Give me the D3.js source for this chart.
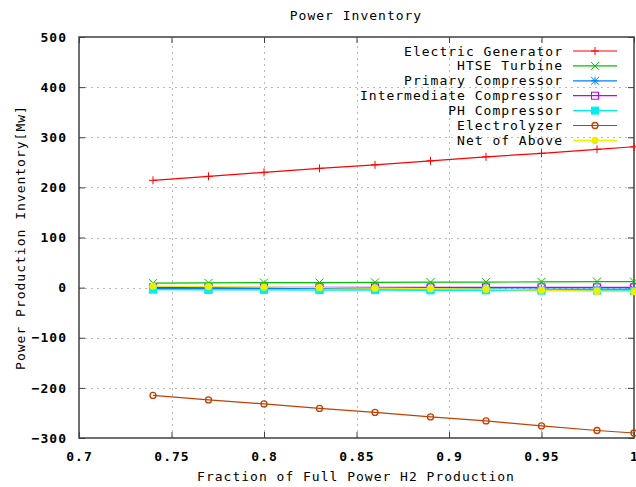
<!DOCTYPE html>
<html>
<head>
<meta charset="utf-8">
<script src="https://cdn.jsdelivr.net/npm/d3@7"></script>
<style>
  body { margin: 0; background: #fff; }
  text { font-family: "DejaVu Sans Mono", monospace; font-size: 13px; letter-spacing: 1px; fill: #000; }
</style>
</head>
<body>
<svg id="chart" width="636" height="487"></svg>
<script>
var fractions = [0.74, 0.77, 0.80, 0.83, 0.86, 0.89, 0.92, 0.95, 0.98, 1.0];
var electricGenerator = [214, 222, 230, 238, 245, 253, 261, 268, 276, 281];
var htseTurbine = [9, 9.5, 10, 10, 10.5, 11, 11, 11.5, 12, 12];
var primaryCompressor = [-2, -2, -2, -2, -2.5, -2.5, -2.5, -3, -3, -3];
var intermediateCompressor = [0.5, 0.5, 0.5, 0.5, 0.5, 0.5, 0.5, 0.5, 0.5, 0.5];
var phCompressor = [-4, -4.5, -4.5, -5, -5, -5.5, -5.5, -6, -6, -6.5];
var electrolyzer = [-215, -224, -232, -241, -249, -258, -266, -276, -285, -290];
var netOfAbove = [3, 2, 1, 0, -1, -2, -3, -5, -7, -8];

var xTicks = [0.7, 0.75, 0.8, 0.85, 0.9, 0.95, 1];
var yTicks = [-300, -200, -100, 0, 100, 200, 300, 400, 500];

var series = [
  {name: 'Electric Generator', values: electricGenerator, color: '#ff0000', mark: 'plus'},
  {name: 'HTSE Turbine', values: htseTurbine, color: '#00c000', mark: 'cross'},
  {name: 'Primary Compressor', values: primaryCompressor, color: '#0080ff', mark: 'star'},
  {name: 'Intermediate Compressor', values: intermediateCompressor, color: '#c000ff', mark: 'square'},
  {name: 'PH Compressor', values: phCompressor, color: '#00eeee', mark: 'fsquare'},
  {name: 'Electrolyzer', values: electrolyzer, color: '#c04000', mark: 'circle'},
  {name: 'Net of Above', values: netOfAbove, color: '#eeee00', mark: 'fcircle'}
];

var svg = d3.select('#chart');
var margin = {left: 79, right: 2, top: 37, bottom: 49};
var W = 636, H = 487;

var x = d3.scaleLinear().domain([0.7, 1]).range([margin.left, W - margin.right]);
var y = d3.scaleLinear().domain([-300, 500]).range([H - margin.bottom, margin.top]);

// grid
var grid = svg.append('g').attr('stroke', '#b8b8b8').attr('stroke-dasharray', '2,4').attr('stroke-width', 1);
xTicks.slice(1, -1).forEach(function(t) {
  grid.append('line').attr('x1', Math.round(x(t)) + 0.5).attr('x2', Math.round(x(t)) + 0.5)
    .attr('y1', y(-300)).attr('y2', y(500));
});
yTicks.slice(1, -1).forEach(function(t) {
  grid.append('line').attr('y1', Math.round(y(t)) + 0.5).attr('y2', Math.round(y(t)) + 0.5)
    .attr('x1', x(0.7)).attr('x2', x(1));
});

// axes with mirrored inward ticks
var tickStyle = function(g) {
  g.select('.domain').remove();
  g.selectAll('.tick line').attr('stroke', '#404040');
  g.selectAll('.tick text').attr('fill', '#000');
};
svg.append('g').attr('transform', 'translate(0,' + y(-300) + ')')
  .call(d3.axisBottom(x).tickValues(xTicks).tickSize(-6).tickPadding(14).tickFormat(d3.format('~g')))
  .call(tickStyle);
svg.append('g').attr('transform', 'translate(0,' + y(500) + ')')
  .call(d3.axisTop(x).tickValues(xTicks).tickSize(-6).tickFormat(''))
  .call(tickStyle);
svg.append('g').attr('transform', 'translate(' + x(0.7) + ',0)')
  .call(d3.axisLeft(y).tickValues(yTicks).tickSize(-6).tickPadding(12).tickFormat(d3.format('d')))
  .call(tickStyle);
svg.append('g').attr('transform', 'translate(' + x(1) + ',0)')
  .call(d3.axisRight(y).tickValues(yTicks).tickSize(-6).tickFormat(''))
  .call(tickStyle);
svg.selectAll('.tick text').style('font-family', '"DejaVu Sans Mono", monospace')
  .style('font-size', '13px').style('font-weight', 'bold');

svg.append('rect').attr('x', x(0.7)).attr('y', y(500))
  .attr('width', x(1) - x(0.7)).attr('height', y(-300) - y(500))
  .attr('fill', 'none').attr('stroke', '#404040').attr('stroke-width', 1.5);

function drawMark(g, kind, cx, cy, color) {
  var s = 4;
  if (kind === 'plus') {
    g.append('path').attr('d', 'M' + (cx - s) + ',' + cy + 'H' + (cx + s) + 'M' + cx + ',' + (cy - s) + 'V' + (cy + s))
      .attr('stroke', color).attr('fill', 'none');
  } else if (kind === 'cross') {
    g.append('path').attr('d', 'M' + (cx - s) + ',' + (cy - s) + 'L' + (cx + s) + ',' + (cy + s) + 'M' + (cx - s) + ',' + (cy + s) + 'L' + (cx + s) + ',' + (cy - s))
      .attr('stroke', color).attr('fill', 'none');
  } else if (kind === 'star') {
    g.append('path').attr('d', 'M' + (cx - s) + ',' + cy + 'H' + (cx + s) + 'M' + cx + ',' + (cy - s) + 'V' + (cy + s) +
      'M' + (cx - s) + ',' + (cy - s) + 'L' + (cx + s) + ',' + (cy + s) + 'M' + (cx - s) + ',' + (cy + s) + 'L' + (cx + s) + ',' + (cy - s))
      .attr('stroke', color).attr('fill', 'none');
  } else if (kind === 'square' || kind === 'fsquare') {
    g.append('rect').attr('x', cx - 3.5).attr('y', cy - 3.5).attr('width', 7).attr('height', 7)
      .attr('stroke', color).attr('fill', kind === 'fsquare' ? color : 'none');
  } else {
    g.append('circle').attr('cx', cx).attr('cy', cy).attr('r', 3)
      .attr('stroke', color).attr('stroke-width', 1.3).attr('fill', kind === 'fcircle' ? color : 'none');
  }
}

var line = d3.line().x(function(d) { return x(d[0]); }).y(function(d) { return y(d[1]); });
var plot = svg.append('g');
series.forEach(function(s) {
  var pts = fractions.map(function(f, i) { return [f, s.values[i]]; });
  var g = plot.append('g');
  g.append('path').attr('d', line(pts)).attr('fill', 'none').attr('stroke', s.color).attr('stroke-width', 1.2);
  pts.forEach(function(p) { drawMark(g, s.mark, x(p[0]), y(p[1]), s.color); });
});

// legend
var legend = svg.append('g');
series.forEach(function(s, i) {
  var ly = 51 + i * 14.9;
  legend.append('text').attr('x', 563).attr('y', ly).attr('dy', '0.35em').attr('text-anchor', 'end').text(s.name);
  legend.append('line').attr('x1', 573).attr('x2', 617).attr('y1', ly).attr('y2', ly)
    .attr('stroke', s.color).attr('stroke-width', 1.2);
  drawMark(legend, s.mark, 595, ly, s.color);
});

svg.append('text').attr('x', 356).attr('y', 15).attr('dy', '0.35em').attr('text-anchor', 'middle').text('Power Inventory');
svg.append('text').attr('x', 356).attr('y', 476).attr('dy', '0.35em').attr('text-anchor', 'middle').text('Fraction of Full Power H2 Production');
svg.append('text').attr('transform', 'translate(20,' + ((y(500) + y(-300)) / 2) + ') rotate(-90)')
  .attr('dy', '0.35em').attr('text-anchor', 'middle').text('Power Production Inventory[Mw]');
</script>
</body>
</html>
